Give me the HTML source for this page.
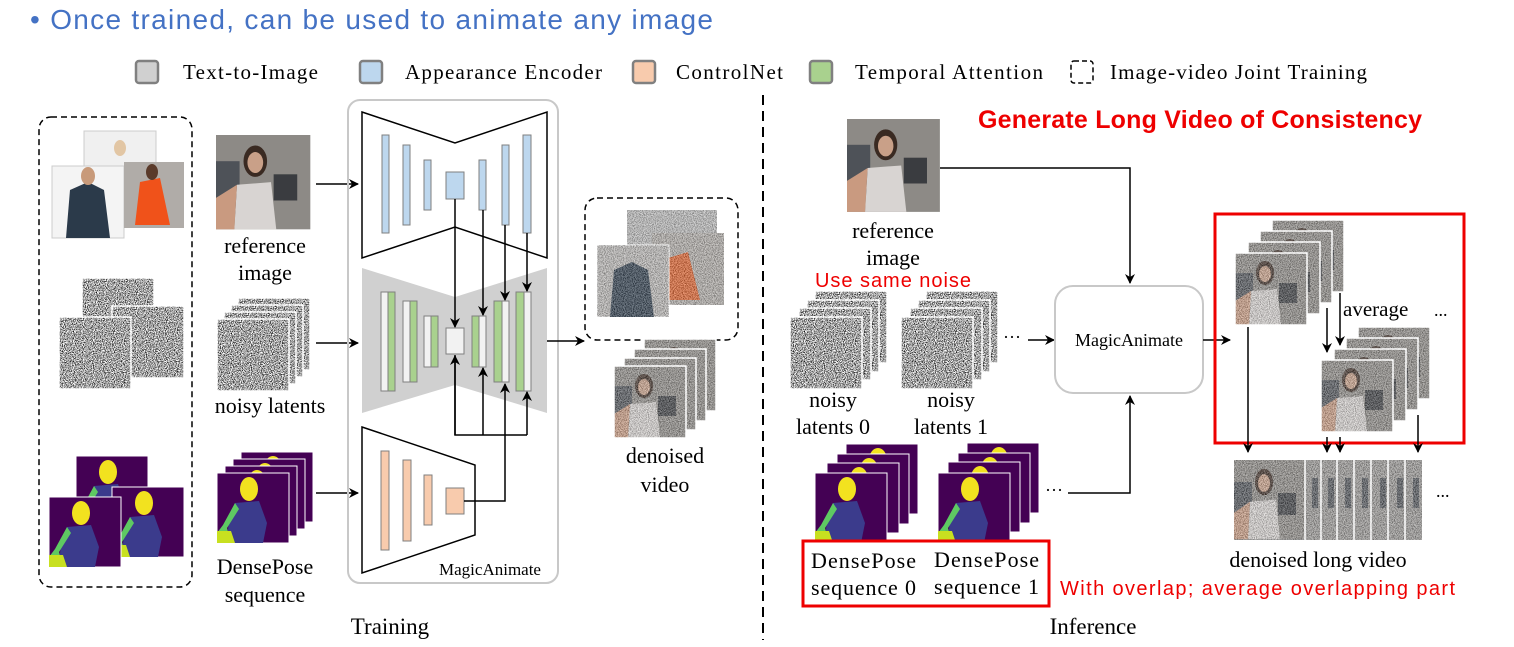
<!DOCTYPE html>
<html><head><meta charset="utf-8"><style>
html,body{margin:0;padding:0;background:#fff;}
svg{display:block;}
text{font-family:"Liberation Serif",serif;fill:#000;}
.s{font-family:"Liberation Sans",sans-serif;}
</style></head><body>
<svg width="1514" height="647" viewBox="0 0 1514 647" xmlns="http://www.w3.org/2000/svg">
<defs>
<filter id="nz" x="0" y="0" width="100%" height="100%" color-interpolation-filters="sRGB">
<feTurbulence type="fractalNoise" baseFrequency="1.1" numOctaves="1" seed="3"/>
<feColorMatrix type="matrix" values="1 0 0 0 0  1 0 0 0 0  1 0 0 0 0  0 0 0 0 1"/>
<feComponentTransfer>
<feFuncR type="linear" slope="3" intercept="-0.85"/>
<feFuncG type="linear" slope="3" intercept="-0.85"/>
<feFuncB type="linear" slope="3" intercept="-0.85"/>
</feComponentTransfer>
</filter>
<marker id="ar" markerWidth="10" markerHeight="10" refX="9" refY="5" orient="auto" markerUnits="userSpaceOnUse">
<path d="M0,0 L10,5 L0,10 L3,5 z" fill="#000"/></marker>
<g id="noise">
<rect width="72" height="72" fill="#999"/>
<rect width="72" height="72" fill="#fff" filter="url(#nz)"/>
<rect width="72" height="72" fill="none" stroke="#fff" stroke-width="1.5"/>
</g>
<g id="pose">
<rect width="72" height="70" fill="#440154" stroke="#fff" stroke-width="1"/>
<ellipse cx="32" cy="16" rx="9" ry="12" fill="#f2e21f"/>
<path d="M18,30 L42,28 L50,50 L46,70 L10,70 L12,45 z" fill="#3b3b8c"/>
<path d="M18,30 L6,52 L0,60 L0,70 L14,70 L10,55 L22,36 z" fill="#5ec962"/>
<path d="M0,58 L14,58 L18,70 L0,70z" fill="#c8e020"/>
</g>
<g id="photo">
<rect width="72" height="72" fill="#8d8a86"/>
<rect x="0" y="20" width="18" height="40" fill="#4e5258"/>
<rect x="44" y="30" width="18" height="20" fill="#3a3c40"/>
<ellipse cx="30" cy="20" rx="9" ry="12" fill="#3a2a22"/>
<ellipse cx="30" cy="21" rx="6" ry="8" fill="#c9a088"/>
<path d="M16,38 L42,36 L46,72 L14,72z" fill="#d8d4d2"/>
<path d="M0,48 L16,38 L14,72 L0,72z" fill="#c99a80"/>
</g>
<g id="nphoto">
<use href="#photo"/>
<rect width="72" height="72" fill="#fff" filter="url(#nz)" opacity="0.35"/>
<rect width="72" height="72" fill="none" stroke="#fff" stroke-width="1.5"/>
</g>
</defs>

<text x="30" y="29" class="s" font-size="28" textLength="683" style="fill:#4472C4">• Once trained, can be used to animate any image</text>

<g stroke-width="2.5">
<rect x="136" y="61" width="22" height="22" rx="3" fill="#d0d0d0" stroke="#808080"/>
<rect x="360" y="61" width="22" height="22" rx="3" fill="#bdd7ee" stroke="#808080"/>
<rect x="633" y="61" width="22" height="22" rx="3" fill="#f8cbad" stroke="#808080"/>
<rect x="810" y="61" width="22" height="22" rx="3" fill="#a9d18e" stroke="#808080"/>
<rect x="1071" y="61" width="22" height="22" rx="3" fill="#fff" stroke="#000" stroke-width="1.5" stroke-dasharray="5,3"/>
</g>
<g font-size="21">
<text x="183" y="79" textLength="135">Text-to-Image</text>
<text x="405" y="79" textLength="197">Appearance Encoder</text>
<text x="676" y="79" textLength="107">ControlNet</text>
<text x="855" y="79" textLength="188">Temporal Attention</text>
<text x="1110" y="79" textLength="257">Image-video Joint Training</text>
</g>

<rect x="39" y="117" width="153" height="470" rx="12" fill="none" stroke="#000" stroke-width="1.5" stroke-dasharray="6,4"/>
<rect x="84" y="131" width="72" height="62" fill="#f0f0f0" stroke="#ccc"/>
<ellipse cx="120" cy="148" rx="6" ry="8" fill="#e2c6a4"/>
<rect x="52" y="166" width="72" height="72" fill="#f4f4f4" stroke="#ccc"/>
<path d="M66,238 L70,190 L88,182 L104,190 L110,238z" fill="#2b3a4a"/>
<ellipse cx="88" cy="176" rx="7" ry="9" fill="#c89a7a"/>
<rect x="124" y="162" width="60" height="66" fill="#b0aca8"/>
<path d="M135,225 L140,182 L160,178 L170,225z" fill="#f0521a"/>
<ellipse cx="152" cy="172" rx="6" ry="8" fill="#5a3a2a"/>
<g transform="translate(82,278)"><use href="#noise"/></g>
<g transform="translate(112,306)"><use href="#noise"/></g>
<g transform="translate(59,317)"><use href="#noise"/></g>
<g transform="translate(76,456)"><use href="#pose"/></g>
<g transform="translate(112,487)"><use href="#pose"/></g>
<g transform="translate(49,497)"><use href="#pose"/></g>

<g transform="translate(216,135) scale(1.31)"><use href="#photo"/></g>
<text x="265" y="253" font-size="22" text-anchor="middle">reference</text>
<text x="265" y="280" font-size="22" text-anchor="middle">image</text>
<g transform="translate(238,298)"><use href="#noise"/></g>
<g transform="translate(231,305)"><use href="#noise"/></g>
<g transform="translate(224,312)"><use href="#noise"/></g>
<g transform="translate(217,319)"><use href="#noise"/></g>
<text x="270" y="413" font-size="22" text-anchor="middle">noisy latents</text>
<g transform="translate(241,452)"><use href="#pose"/></g>
<g transform="translate(233,459)"><use href="#pose"/></g>
<g transform="translate(225,466)"><use href="#pose"/></g>
<g transform="translate(217,473)"><use href="#pose"/></g>
<text x="265" y="574" font-size="22" text-anchor="middle">DensePose</text>
<text x="265" y="602" font-size="22" text-anchor="middle">sequence</text>
<g stroke="#000" stroke-width="1.5" marker-end="url(#ar)">
<line x1="316" y1="184" x2="358" y2="184"/>
<line x1="316" y1="343" x2="358" y2="343"/>
<line x1="316" y1="493" x2="358" y2="493"/>
</g>

<rect x="348" y="100" width="210" height="483" rx="12" fill="none" stroke="#c8c8c8" stroke-width="2"/>
<polygon points="362,112 455,143 547,112 547,258 455,227 362,258" fill="#fff" stroke="#000" stroke-width="1.5"/>
<polygon points="362,268 455,297 547,268 547,413 455,385 362,413" fill="#d0d0d0"/>
<polygon points="362,427 475,465 475,535 362,573" fill="#fff" stroke="#000" stroke-width="1.5"/>
<g stroke="#7f7f7f" stroke-width="1" fill="#bdd7ee">
<rect x="382" y="135" width="7" height="98"/><rect x="403" y="145" width="7" height="80"/><rect x="424" y="160" width="7" height="50"/>
<rect x="446" y="172" width="18" height="27"/>
<rect x="479" y="160" width="7" height="50"/><rect x="502" y="145" width="7" height="80"/><rect x="523" y="135" width="8" height="98"/>
</g>
<g stroke="#7f7f7f" stroke-width="1">
<rect x="381" y="292" width="7" height="99" fill="#f2f2f2"/><rect x="388" y="292" width="7" height="99" fill="#a9d18e"/>
<rect x="403" y="301" width="7" height="81" fill="#f2f2f2"/><rect x="410" y="301" width="7" height="81" fill="#a9d18e"/>
<rect x="424" y="316" width="7" height="51" fill="#f2f2f2"/><rect x="431" y="316" width="7" height="51" fill="#a9d18e"/>
<rect x="446" y="328" width="18" height="26" fill="#f2f2f2"/>
<rect x="472" y="316" width="7" height="51" fill="#a9d18e"/><rect x="479" y="316" width="7" height="51" fill="#f2f2f2"/>
<rect x="494" y="301" width="8" height="81" fill="#a9d18e"/><rect x="502" y="301" width="7" height="81" fill="#f2f2f2"/>
<rect x="516" y="292" width="8" height="99" fill="#a9d18e"/><rect x="524" y="292" width="7" height="99" fill="#f2f2f2"/>
</g>
<g stroke="#7f7f7f" stroke-width="1" fill="#f8cbad">
<rect x="381" y="451" width="8" height="99"/><rect x="403" y="460" width="8" height="81"/><rect x="424" y="475" width="8" height="50"/>
<rect x="446" y="488" width="18" height="26"/>
</g>
<g stroke="#000" stroke-width="1.5" fill="none">
<line x1="455" y1="199" x2="455" y2="327" marker-end="url(#ar)"/>
<line x1="483" y1="210" x2="483" y2="315" marker-end="url(#ar)"/>
<line x1="505" y1="225" x2="505" y2="300" marker-end="url(#ar)"/>
<line x1="527" y1="233" x2="527" y2="291" marker-end="url(#ar)"/>
<polyline points="455,355 455,435 527,435"/>
<line x1="455" y1="435" x2="455" y2="356" marker-end="url(#ar)"/>
<line x1="483" y1="435" x2="483" y2="368" marker-end="url(#ar)"/>
<line x1="527" y1="435" x2="527" y2="392" marker-end="url(#ar)"/>
<polyline points="464,501 505,501 505,384" marker-end="url(#ar)"/>
<line x1="547" y1="341" x2="584" y2="341" marker-end="url(#ar)"/>
</g>
<text x="490" y="575" font-size="17" text-anchor="middle">MagicAnimate</text>

<rect x="585" y="198" width="153" height="142" rx="12" fill="none" stroke="#000" stroke-width="1.5" stroke-dasharray="6,4"/>
<rect x="627" y="210" width="90" height="60" fill="#bbb"/><rect x="627" y="210" width="90" height="60" fill="#fff" filter="url(#nz)" opacity="0.35"/>
<rect x="652" y="233" width="72" height="72" fill="#b0aca8"/><path d="M664,300 L668,258 L688,252 L700,300z" fill="#e0602a"/>
<rect x="652" y="233" width="72" height="72" fill="#fff" filter="url(#nz)" opacity="0.35"/>
<rect x="597" y="245" width="72" height="72" fill="#bab8b6" stroke="#fff"/><path d="M610,317 L614,270 L632,262 L648,270 L654,317z" fill="#2b3a4a"/>
<rect x="597" y="245" width="72" height="72" fill="#fff" filter="url(#nz)" opacity="0.35"/>
<g transform="translate(644,339)"><use href="#nphoto"/></g>
<g transform="translate(634,349)"><use href="#nphoto"/></g>
<g transform="translate(624,358)"><use href="#nphoto"/></g>
<g transform="translate(614,366)"><use href="#nphoto"/></g>
<text x="665" y="463" font-size="22" text-anchor="middle">denoised</text>
<text x="665" y="492" font-size="22" text-anchor="middle">video</text>

<text x="390" y="634" font-size="23" text-anchor="middle">Training</text>

<line x1="763" y1="95" x2="763" y2="640" stroke="#000" stroke-width="2" stroke-dasharray="10,6"/>

<text x="978" y="128" class="s" font-size="25" font-weight="bold" textLength="444" style="fill:#ee0000">Generate Long Video of Consistency</text>
<g transform="translate(847,119) scale(1.29)"><use href="#photo"/></g>
<text x="893" y="238" font-size="22" text-anchor="middle">reference</text>
<text x="893" y="265" font-size="22" text-anchor="middle">image</text>
<polyline points="940,168 1130,168 1130,283" fill="none" stroke="#000" stroke-width="1.5" marker-end="url(#ar)"/>
<text x="815" y="287" class="s" font-size="20" textLength="156" style="fill:#ee0000">Use same noise</text>
<g transform="translate(815,291)"><use href="#noise"/></g>
<g transform="translate(807,300)"><use href="#noise"/></g>
<g transform="translate(799,308)"><use href="#noise"/></g>
<g transform="translate(790,317)"><use href="#noise"/></g>
<g transform="translate(926,291)"><use href="#noise"/></g>
<g transform="translate(918,300)"><use href="#noise"/></g>
<g transform="translate(910,308)"><use href="#noise"/></g>
<g transform="translate(901,317)"><use href="#noise"/></g>
<text x="1003" y="343" font-size="18">···</text>
<line x1="1028" y1="340" x2="1054" y2="340" stroke="#000" stroke-width="1.5" marker-end="url(#ar)"/>
<rect x="1055" y="286" width="148" height="107" rx="18" fill="#fff" stroke="#c8c8c8" stroke-width="2"/>
<text x="1129" y="346" font-size="18" text-anchor="middle">MagicAnimate</text>
<text x="833" y="407" font-size="22" text-anchor="middle">noisy</text>
<text x="833" y="434" font-size="22" text-anchor="middle">latents 0</text>
<text x="951" y="407" font-size="22" text-anchor="middle">noisy</text>
<text x="951" y="434" font-size="22" text-anchor="middle">latents 1</text>
<g transform="translate(846,444)"><use href="#pose"/></g>
<g transform="translate(837,454)"><use href="#pose"/></g>
<g transform="translate(827,463)"><use href="#pose"/></g>
<g transform="translate(815,473)"><use href="#pose"/></g>
<g transform="translate(967,443)"><use href="#pose"/></g>
<g transform="translate(958,453)"><use href="#pose"/></g>
<g transform="translate(948,462)"><use href="#pose"/></g>
<g transform="translate(938,473)"><use href="#pose"/></g>
<text x="1045" y="496" font-size="18">···</text>
<polyline points="1068,493 1130,493 1130,396" fill="none" stroke="#000" stroke-width="1.5" marker-end="url(#ar)"/>
<rect x="803" y="541" width="246" height="65" fill="#fff" stroke="#ee0000" stroke-width="3"/>
<text x="811" y="568" font-size="22" textLength="105">DensePose</text>
<text x="811" y="595" font-size="22" textLength="105">sequence 0</text>
<text x="934" y="567" font-size="22" textLength="105">DensePose</text>
<text x="934" y="594" font-size="22" textLength="105">sequence 1</text>
<text x="1060" y="595" class="s" font-size="20" textLength="395" style="fill:#ee0000">With overlap; average overlapping part</text>
<text x="1093" y="634" font-size="23" text-anchor="middle">Inference</text>

<line x1="1203" y1="340" x2="1230" y2="340" stroke="#000" stroke-width="1.5" marker-end="url(#ar)"/>
<rect x="1215" y="214" width="249" height="229" fill="none" stroke="#ee0000" stroke-width="3"/>
<g transform="translate(1272,220)"><use href="#nphoto"/></g>
<g transform="translate(1260,231)"><use href="#nphoto"/></g>
<g transform="translate(1248,242)"><use href="#nphoto"/></g>
<g transform="translate(1235,253)"><use href="#nphoto"/></g>
<g transform="translate(1358,327)"><use href="#nphoto"/></g>
<g transform="translate(1346,338)"><use href="#nphoto"/></g>
<g transform="translate(1334,349)"><use href="#nphoto"/></g>
<g transform="translate(1321,360)"><use href="#nphoto"/></g>
<text x="1343" y="316" font-size="21">average</text>
<text x="1434" y="316" font-size="18">...</text>
<g stroke="#000" stroke-width="1.5">
<line x1="1248" y1="327" x2="1248" y2="452" marker-end="url(#ar)"/>
<line x1="1327" y1="308" x2="1327" y2="352" marker-end="url(#ar)"/>
<line x1="1340" y1="293" x2="1340" y2="345" marker-end="url(#ar)"/>
<line x1="1418" y1="415" x2="1418" y2="452" marker-end="url(#ar)"/>
<line x1="1327" y1="437" x2="1327" y2="452" marker-end="url(#ar)"/>
<line x1="1340" y1="437" x2="1340" y2="452" marker-end="url(#ar)"/>
</g>
<g>
<rect x="1234" y="460" width="188" height="80" fill="#888"/>
<g transform="translate(1234,460) scale(1,1.1)"><use href="#photo"/></g>
<rect x="1305" y="460" width="117" height="80" fill="#9a9896"/>
<g fill="#4e5258"><rect x="1312" y="478" width="6" height="30"/><rect x="1328" y="478" width="6" height="30"/><rect x="1345" y="478" width="6" height="30"/><rect x="1362" y="478" width="6" height="30"/><rect x="1380" y="478" width="6" height="30"/><rect x="1397" y="478" width="6" height="30"/><rect x="1413" y="478" width="6" height="30"/></g>
<rect x="1234" y="460" width="188" height="80" fill="#fff" filter="url(#nz)" opacity="0.35"/>
<g stroke="#fff" stroke-width="1.5"><line x1="1305" y1="460" x2="1305" y2="540"/><line x1="1321" y1="460" x2="1321" y2="540"/><line x1="1337" y1="460" x2="1337" y2="540"/><line x1="1354" y1="460" x2="1354" y2="540"/><line x1="1371" y1="460" x2="1371" y2="540"/><line x1="1388" y1="460" x2="1388" y2="540"/><line x1="1405" y1="460" x2="1405" y2="540"/></g>
</g>
<text x="1436" y="497" font-size="18">...</text>
<text x="1318" y="567" font-size="22" text-anchor="middle">denoised long video</text>
</svg>
</body></html>
